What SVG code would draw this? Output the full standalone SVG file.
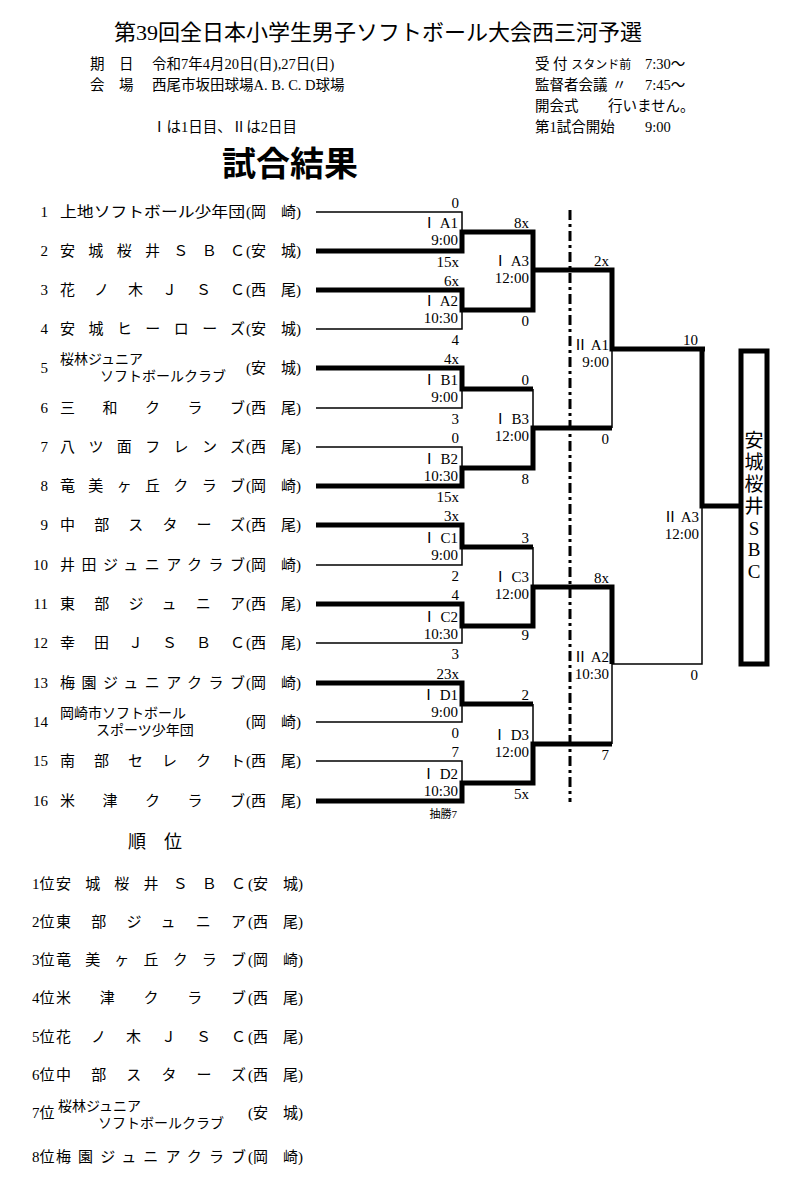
<svg xmlns="http://www.w3.org/2000/svg" width="789" height="1181" viewBox="0 0 789 1181">
<style>
text{font-family:"Liberation Serif","Noto Sans CJK JP",serif;fill:#000}
.n{font-size:15px}
.s{font-size:14.5px}
.sc{font-size:15px;text-anchor:end}
.th{fill:none;stroke:#000;stroke-width:5}
.tn{fill:none;stroke:#000;stroke-width:1.5}
</style>
<rect width="789" height="1181" fill="#fff"/>
<g id="header">
<text x="378" y="40" font-size="22" text-anchor="middle">第39回全日本小学生男子ソフトボール大会西三河予選</text>
<text x="90" y="69" class="s">期　日</text><text x="152" y="69" class="s">令和7年4月20日(日),27日(日)</text>
<text x="90" y="90" class="s">会　場</text><text x="152" y="90" class="s">西尾市坂田球場A. B. C. D球場</text>
<text x="535" y="69" class="s">受 付 <tspan font-size="12">スタンド前</tspan></text><text x="645" y="69" class="s">7:30～</text>
<text x="535" y="90" class="s">監督者会議</text><text x="612" y="90" class="s">〃</text><text x="645" y="90" class="s">7:45～</text>
<text x="535" y="111" class="s">開会式</text><text x="608" y="111" class="s">行いません。</text>
<text x="535" y="132" class="s">第1試合開始</text><text x="645" y="132" class="s">9:00</text>
<text x="152" y="132" class="s">Ⅰは1日目、Ⅱは2日目</text>
<text x="222" y="176" font-size="34" font-weight="bold" style="font-family:'Noto Sans CJK JP',sans-serif">試合結果</text>
</g>
<g id="teams" class="n">
<text x="48" y="217" text-anchor="end">1</text><text x="60" y="217" textLength="185" lengthAdjust="spacingAndGlyphs">上地ソフトボール少年団</text><text x="246" y="217">(岡　崎)</text>
<text x="48" y="256" text-anchor="end">2</text><text x="60" y="256" textLength="185" lengthAdjust="spacing">安城桜井ＳＢＣ</text><text x="246" y="256">(安　城)</text>
<text x="48" y="295" text-anchor="end">3</text><text x="60" y="295" textLength="185" lengthAdjust="spacing">花ノ木ＪＳＣ</text><text x="246" y="295">(西　尾)</text>
<text x="48" y="334" text-anchor="end">4</text><text x="60" y="334" textLength="185" lengthAdjust="spacing">安城ヒーローズ</text><text x="246" y="334">(安　城)</text>
<text x="48" y="373" text-anchor="end">5</text><text x="60" y="364" font-size="14">桜林ジュニア</text><text x="100" y="381" font-size="14">ソフトボールクラブ</text><text x="246" y="373">(安　城)</text>
<text x="48" y="413" text-anchor="end">6</text><text x="60" y="413" textLength="185" lengthAdjust="spacing">三和クラブ</text><text x="246" y="413">(西　尾)</text>
<text x="48" y="452" text-anchor="end">7</text><text x="60" y="452" textLength="185" lengthAdjust="spacing">八ツ面フレンズ</text><text x="246" y="452">(西　尾)</text>
<text x="48" y="491" text-anchor="end">8</text><text x="60" y="491" textLength="185" lengthAdjust="spacing">竜美ヶ丘クラブ</text><text x="246" y="491">(岡　崎)</text>
<text x="48" y="530" text-anchor="end">9</text><text x="60" y="530" textLength="185" lengthAdjust="spacing">中部スターズ</text><text x="246" y="530">(西　尾)</text>
<text x="48" y="570" text-anchor="end">10</text><text x="60" y="570" textLength="185" lengthAdjust="spacing">井田ジュニアクラブ</text><text x="246" y="570">(岡　崎)</text>
<text x="48" y="609" text-anchor="end">11</text><text x="60" y="609" textLength="185" lengthAdjust="spacing">東部ジュニア</text><text x="246" y="609">(西　尾)</text>
<text x="48" y="648" text-anchor="end">12</text><text x="60" y="648" textLength="185" lengthAdjust="spacing">幸田ＪＳＢＣ</text><text x="246" y="648">(西　尾)</text>
<text x="48" y="688" text-anchor="end">13</text><text x="60" y="688" textLength="185" lengthAdjust="spacing">梅園ジュニアクラブ</text><text x="246" y="688">(岡　崎)</text>
<text x="48" y="727" text-anchor="end">14</text><text x="60" y="718" font-size="14">岡崎市ソフトボール</text><text x="96" y="735" font-size="14">スポーツ少年団</text><text x="246" y="727">(岡　崎)</text>
<text x="48" y="766" text-anchor="end">15</text><text x="60" y="766" textLength="185" lengthAdjust="spacing">南部セレクト</text><text x="246" y="766">(西　尾)</text>
<text x="48" y="806" text-anchor="end">16</text><text x="60" y="806" textLength="185" lengthAdjust="spacing">米津クラブ</text><text x="246" y="806">(西　尾)</text>
</g>
<g id="connectors">
<path class="tn" d="M316 212H462V232M316 329H462V310M316 408H462V389M316 447H462V468M316 565H462V547M316 643H462V626M316 722H462V704M316 761H462V783"/>
<path class="th" d="M316 251H462V232H533V310H462V290H316M533 270H612V349H705M316 368H462V389H533M316 486H462V468H533V428H612M316 525H462V547H533M316 604H462V626H533V587H612V664M316 683H462V704H533M316 801H462V783H533V744H612M702 349V506H739"/>
<path class="tn" d="M533 389V428M612 349V428M533 547V587M612 664V744M533 704V744M612 664H702V506"/>
<line x1="570" y1="210" x2="570" y2="802" stroke="#000" stroke-width="3" stroke-dasharray="10,4,3,4"/>
</g>
<g id="scores">
<text x="459" y="208" class="sc">0</text><text x="459" y="267" class="sc">15x</text>
<text x="458" y="228" class="sc">Ⅰ A1</text><text x="458" y="245" class="sc">9:00</text>
<text x="459" y="286" class="sc">6x</text><text x="459" y="345" class="sc">4</text>
<text x="458" y="306" class="sc">Ⅰ A2</text><text x="458" y="323" class="sc">10:30</text>
<text x="459" y="364" class="sc">4x</text><text x="459" y="424" class="sc">3</text>
<text x="458" y="385" class="sc">Ⅰ B1</text><text x="458" y="402" class="sc">9:00</text>
<text x="459" y="443" class="sc">0</text><text x="459" y="502" class="sc">15x</text>
<text x="458" y="464" class="sc">Ⅰ B2</text><text x="458" y="481" class="sc">10:30</text>
<text x="459" y="521" class="sc">3x</text><text x="459" y="581" class="sc">2</text>
<text x="458" y="543" class="sc">Ⅰ C1</text><text x="458" y="560" class="sc">9:00</text>
<text x="459" y="600" class="sc">4</text><text x="459" y="659" class="sc">3</text>
<text x="458" y="622" class="sc">Ⅰ C2</text><text x="458" y="639" class="sc">10:30</text>
<text x="459" y="679" class="sc">23x</text><text x="459" y="738" class="sc">0</text>
<text x="458" y="700" class="sc">Ⅰ D1</text><text x="458" y="717" class="sc">9:00</text>
<text x="459" y="757" class="sc">7</text><text x="457" y="818" font-size="11" text-anchor="end">抽勝7</text>
<text x="458" y="779" class="sc">Ⅰ D2</text><text x="458" y="796" class="sc">10:30</text>
<text x="529" y="228" class="sc">8x</text><text x="529" y="326" class="sc">0</text>
<text x="529" y="266" class="sc">Ⅰ A3</text><text x="529" y="283" class="sc">12:00</text>
<text x="529" y="385" class="sc">0</text><text x="529" y="484" class="sc">8</text>
<text x="529" y="424" class="sc">Ⅰ B3</text><text x="529" y="441" class="sc">12:00</text>
<text x="529" y="543" class="sc">3</text><text x="529" y="640" class="sc">9</text>
<text x="529" y="582" class="sc">Ⅰ C3</text><text x="529" y="599" class="sc">12:00</text>
<text x="529" y="700" class="sc">2</text><text x="529" y="799" class="sc">5x</text>
<text x="529" y="740" class="sc">Ⅰ D3</text><text x="529" y="757" class="sc">12:00</text>
<text x="609" y="266" class="sc">2x</text><text x="609" y="444" class="sc">0</text>
<text x="609" y="350" class="sc">Ⅱ A1</text><text x="609" y="367" class="sc">9:00</text>
<text x="609" y="583" class="sc">8x</text><text x="609" y="760" class="sc">7</text>
<text x="609" y="662" class="sc">Ⅱ A2</text><text x="609" y="679" class="sc">10:30</text>
<text x="698" y="345" class="sc">10</text><text x="698" y="680" class="sc">0</text>
<text x="699" y="522" class="sc">Ⅱ A3</text><text x="699" y="539" class="sc">12:00</text>
</g>
<g id="winner">
<rect x="741" y="351" width="26" height="313" fill="none" stroke="#000" stroke-width="5"/>
<text x="754" y="447" font-size="19" text-anchor="middle">安</text>
<text x="754" y="469" font-size="19" text-anchor="middle">城</text>
<text x="754" y="491" font-size="19" text-anchor="middle">桜</text>
<text x="754" y="513" font-size="19" text-anchor="middle">井</text>
<text x="754" y="535" font-size="19" text-anchor="middle">S</text>
<text x="754" y="556" font-size="19" text-anchor="middle">B</text>
<text x="754" y="578" font-size="19" text-anchor="middle">C</text>
</g>
<g id="ranking" class="n">
<text x="128" y="848" font-size="18">順　位</text>
<text x="32" y="889">1位</text><text x="56" y="889" textLength="190" lengthAdjust="spacing">安城桜井ＳＢＣ</text><text x="248" y="889">(安　城)</text>
<text x="32" y="927">2位</text><text x="56" y="927" textLength="190" lengthAdjust="spacing">東部ジュニア</text><text x="248" y="927">(西　尾)</text>
<text x="32" y="965">3位</text><text x="56" y="965" textLength="190" lengthAdjust="spacing">竜美ヶ丘クラブ</text><text x="248" y="965">(岡　崎)</text>
<text x="32" y="1003">4位</text><text x="56" y="1003" textLength="190" lengthAdjust="spacing">米津クラブ</text><text x="248" y="1003">(西　尾)</text>
<text x="32" y="1042">5位</text><text x="56" y="1042" textLength="190" lengthAdjust="spacing">花ノ木ＪＳＣ</text><text x="248" y="1042">(西　尾)</text>
<text x="32" y="1080">6位</text><text x="56" y="1080" textLength="190" lengthAdjust="spacing">中部スターズ</text><text x="248" y="1080">(西　尾)</text>
<text x="32" y="1118">7位</text><text x="58" y="1111" font-size="14">桜林ジュニア</text><text x="98" y="1128" font-size="14">ソフトボールクラブ</text><text x="248" y="1118">(安　城)</text>
<text x="32" y="1162">8位</text><text x="56" y="1162" textLength="190" lengthAdjust="spacing">梅園ジュニアクラブ</text><text x="248" y="1162">(岡　崎)</text>
</g>
</svg>
